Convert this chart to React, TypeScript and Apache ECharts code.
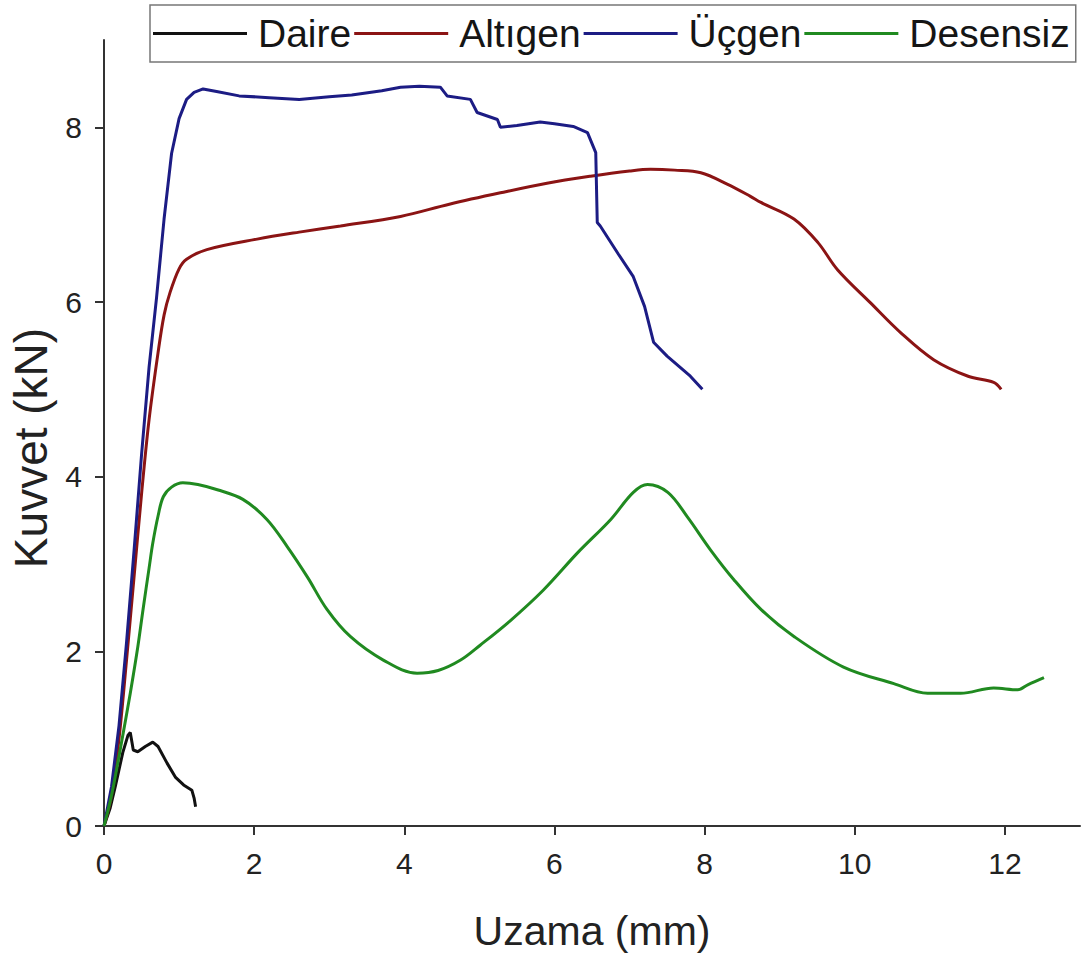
import React, { useEffect, useRef } from "react";
import * as echarts from "echarts";

const seriesNames = ["Daire", "Altıgen", "Üçgen", "Desensiz"];
const seriesColors = ["#111111", "#8b1414", "#1c1c84", "#208a20"];

const xTicks = [0, 2, 4, 6, 8, 10, 12];
const yTicks = [0, 2, 4, 6, 8];

const daireX = [0, 0.08, 0.15, 0.25, 0.32, 0.35, 0.39, 0.45, 0.55, 0.65, 0.72, 0.84, 0.95, 1.06, 1.17, 1.2, 1.22];
const daireY = [0, 0.2, 0.45, 0.84, 1.04, 1.07, 0.87, 0.85, 0.91, 0.96, 0.91, 0.72, 0.56, 0.47, 0.41, 0.32, 0.22];

const altigenX = [0, 0.1, 0.2, 0.3, 0.4, 0.5, 0.6, 0.72, 0.8, 0.88, 1.0, 1.1, 1.37, 2.04, 2.6, 3.15, 3.95, 4.6, 5.28, 5.9, 6.48, 7.0, 7.28, 7.6, 7.95, 8.3, 8.61, 8.75, 9.19, 9.51, 9.77, 10.21, 10.61, 11.05, 11.51, 11.85, 11.95];
const altigenY = [0, 0.35, 1.0, 1.9, 2.85, 3.8, 4.65, 5.42, 5.85, 6.11, 6.38, 6.49, 6.6, 6.72, 6.8, 6.87, 6.98, 7.12, 7.25, 7.36, 7.44, 7.5, 7.52, 7.51, 7.48, 7.35, 7.21, 7.14, 6.95, 6.68, 6.37, 5.99, 5.65, 5.34, 5.15, 5.08, 5.0];

const ucgenX = [0, 0.1, 0.2, 0.3, 0.4, 0.5, 0.6, 0.7, 0.8, 0.9, 1.0, 1.1, 1.2, 1.32, 1.5, 1.8, 2.2, 2.6, 3.0, 3.3, 3.7, 3.95, 4.2, 4.48, 4.57, 4.88, 4.97, 5.24, 5.28, 5.5, 5.81, 6.0, 6.25, 6.44, 6.55, 6.57, 6.61, 6.85, 7.05, 7.2, 7.32, 7.5, 7.81, 7.97];
const ucgenY = [0, 0.45, 1.15, 2.1, 3.15, 4.25, 5.25, 6.05, 6.95, 7.7, 8.1, 8.32, 8.4, 8.44, 8.41, 8.36, 8.34, 8.32, 8.35, 8.37, 8.42, 8.46, 8.47, 8.46, 8.36, 8.32, 8.17, 8.09, 8.0, 8.02, 8.06, 8.04, 8.01, 7.94, 7.71, 6.91, 6.87, 6.55, 6.29, 5.95, 5.54, 5.38, 5.15, 5.0];

const desensizX = [0, 0.1, 0.2, 0.28, 0.35, 0.45, 0.52, 0.6, 0.65, 0.72, 0.79, 0.9, 1.05, 1.25, 1.51, 1.85, 2.17, 2.44, 2.71, 2.97, 3.28, 3.72, 4.17, 4.45, 4.75, 5.01, 5.41, 5.85, 6.31, 6.75, 7.05, 7.24, 7.51, 7.77, 8.08, 8.39, 8.75, 9.19, 9.85, 10.52, 10.97, 11.41, 11.85, 12.17, 12.31, 12.52];
const desensizY = [0, 0.35, 0.8, 1.18, 1.52, 2.05, 2.48, 2.95, 3.24, 3.55, 3.77, 3.88, 3.93, 3.91, 3.85, 3.74, 3.51, 3.2, 2.85, 2.48, 2.17, 1.9, 1.75, 1.78, 1.9, 2.07, 2.35, 2.7, 3.13, 3.51, 3.82, 3.91, 3.82, 3.54, 3.16, 2.82, 2.48, 2.17, 1.82, 1.63, 1.52, 1.52, 1.58, 1.56, 1.62, 1.7];

const allX = [daireX, altigenX, ucgenX, desensizX];
const allY = [daireY, altigenY, ucgenY, desensizY];

const FONT = "'Liberation Sans', Arial, sans-serif";

export default function App() {
  const ref = useRef<HTMLDivElement>(null);
  useEffect(() => {
    document.body.style.margin = "0";
    if (!ref.current) return;
    const chart = echarts.init(ref.current, null, { renderer: "svg" });
    const axisLineStyle = { color: "#333", width: 2 };
    chart.setOption({
      animation: false,
      backgroundColor: "#ffffff",
      grid: { left: 104, right: 4, top: 40, bottom: 130 },
      legend: {
        left: 150,
        top: 5,
        width: 930,
        itemGap: 3,
        itemWidth: 94,
        itemHeight: 3,
        icon: "rect",
        padding: [9, 6, 9, 3],
        borderColor: "#777",
        borderWidth: 1.5,
        textStyle: { fontSize: 39, fontFamily: FONT, color: "#151515", padding: [0, 0, 0, 6] },
        data: seriesNames,
      },
      graphic: [
        {
          type: "text",
          x: 31,
          y: 448,
          rotation: Math.PI / 2,
          style: {
            text: "Kuvvet (kN)",
            font: `46px ${FONT}`,
            fill: "#222",
            align: "center",
            verticalAlign: "middle",
          },
        },
      ],
      xAxis: {
        type: "value",
        min: 0,
        max: 13,
        interval: 2,
        name: "Uzama (mm)",
        nameLocation: "middle",
        nameGap: 84,
        nameTextStyle: { fontSize: 41, fontFamily: FONT, color: "#222" },
        axisLine: { show: true, onZero: false, lineStyle: axisLineStyle },
        axisTick: { show: true, inside: false, length: 9, lineStyle: axisLineStyle, customValues: xTicks },
        axisLabel: { fontSize: 30, fontFamily: FONT, color: "#222", margin: 22, customValues: xTicks },
        splitLine: { show: false },
      },
      yAxis: {
        type: "value",
        min: 0,
        max: 9,
        interval: 2,
        axisLine: { show: true, onZero: false, lineStyle: axisLineStyle },
        axisTick: { show: true, inside: false, length: 9, lineStyle: axisLineStyle, customValues: yTicks },
        axisLabel: { fontSize: 30, fontFamily: FONT, color: "#222", margin: 22, customValues: yTicks },
        splitLine: { show: false },
      },
      series: seriesNames.map((name, i) => ({
        name,
        type: "line",
        showSymbol: false,
        symbol: "none",
        smooth: i === 1 || i === 3 ? 0.35 : false,
        color: seriesColors[i],
        lineStyle: { color: seriesColors[i], width: 3 },
        data: allX[i].map((x, j) => [x, allY[i][j]]),
      })),
    });
    return () => chart.dispose();
  }, []);
  return <div ref={ref} style={{ width: 1084, height: 956 }} />;
}
